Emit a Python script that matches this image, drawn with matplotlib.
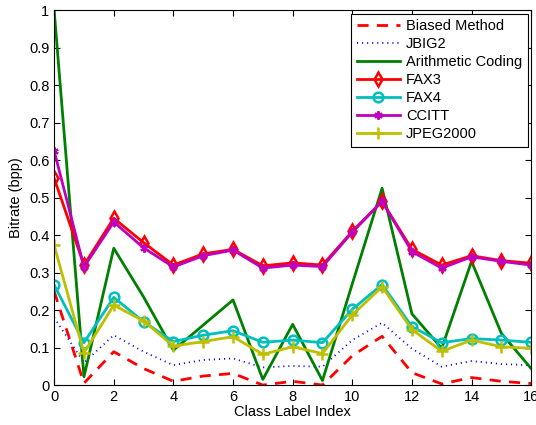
import matplotlib
matplotlib.use('Agg')
from matplotlib import pyplot as plt

# class index 0..16
classes = list(range(17))

biased = [0.25, 0.005, 0.089, 0.044, 0.01, 0.024, 0.031, 0.0, 0.01, 0.0,
          0.078, 0.13, 0.033, 0.003, 0.02, 0.01, 0.004]
jbig2 = [0.18, 0.06, 0.133, 0.089, 0.053, 0.067, 0.071, 0.047, 0.051, 0.049,
         0.12, 0.166, 0.097, 0.049, 0.064, 0.056, 0.053]
arith = [1.0, 0.022, 0.365, 0.235, 0.093, 0.16, 0.227, 0.015, 0.162, 0.012,
         0.27, 0.525, 0.19, 0.098, 0.33, 0.138, 0.044]
fax3 = [0.552, 0.32, 0.445, 0.38, 0.32, 0.35, 0.362, 0.318, 0.326, 0.32,
        0.41, 0.49, 0.362, 0.32, 0.345, 0.332, 0.325]
fax4 = [0.267, 0.113, 0.234, 0.169, 0.116, 0.133, 0.145, 0.114, 0.12, 0.113,
        0.202, 0.268, 0.156, 0.113, 0.124, 0.12, 0.114]
ccitt = [0.625, 0.315, 0.435, 0.366, 0.315, 0.345, 0.36, 0.312, 0.32, 0.316,
         0.408, 0.49, 0.356, 0.312, 0.342, 0.33, 0.32]
jpeg2000 = [0.373, 0.086, 0.213, 0.171, 0.104, 0.116, 0.129, 0.082, 0.102, 0.084,
            0.187, 0.262, 0.148, 0.09, 0.12, 0.102, 0.098]

plt.rcParams['font.family'] = ['Liberation Sans', 'DejaVu Sans']
plt.rcParams['font.size'] = 10.5

fig = plt.figure(figsize=(5.36, 4.25), dpi=100)
ax = fig.add_axes([0.101, 0.094, 0.890, 0.882])

lw = 2.0
ax.plot(classes, biased, color='#ff0000', linestyle=(0, (4, 3)), linewidth=lw, label='Biased Method')
ax.plot(classes, jbig2, color='#0000ff', linestyle=(0, (0.6, 2.2)), linewidth=1.3, label='JBIG2')
ax.plot(classes, arith, color='#008000', linewidth=lw, label='Arithmetic Coding')
ax.plot(classes, fax3, color='#ff0000', linewidth=lw, marker='d', markersize=7,
        markerfacecolor='none', markeredgewidth=1.8, label='FAX3')
ax.plot(classes, fax4, color='#00bfbf', linewidth=lw, marker='o', markersize=7,
        markerfacecolor='none', markeredgewidth=1.8, label='FAX4')
ax.plot(classes, ccitt, color='#bf00bf', linewidth=lw, marker=(6, 2, 0), markersize=6,
        markeredgewidth=1.5, label='CCITT')
ax.plot(classes, jpeg2000, color='#bfbf00', linewidth=lw, marker='+', markersize=8,
        markeredgewidth=1.8, label='JPEG2000')

ax.set_xlim(0, 16)
ax.set_ylim(0, 1)
ax.set_xticks(range(0, 17, 2))
ax.set_yticks([i / 10 for i in range(11)])
ax.set_yticklabels(['0', '0.1', '0.2', '0.3', '0.4', '0.5', '0.6', '0.7', '0.8', '0.9', '1'])
ax.tick_params(direction='in', top=True, right=True, length=4, width=0.8, labelsize=10.5)
for s in ax.spines.values():
    s.set_linewidth(0.8)

ax.set_xlabel('Class Label Index', labelpad=1)
ax.set_ylabel('Bitrate (bpp)', labelpad=4)

leg = ax.legend(loc='upper right', fancybox=False, framealpha=1, edgecolor='black',
                handlelength=3.0, borderaxespad=0.25, labelspacing=0.28, handletextpad=0.4,
                borderpad=0.35, fontsize=10.5)
leg.get_frame().set_linewidth(0.8)

fig.savefig('out.png', dpi=100)
